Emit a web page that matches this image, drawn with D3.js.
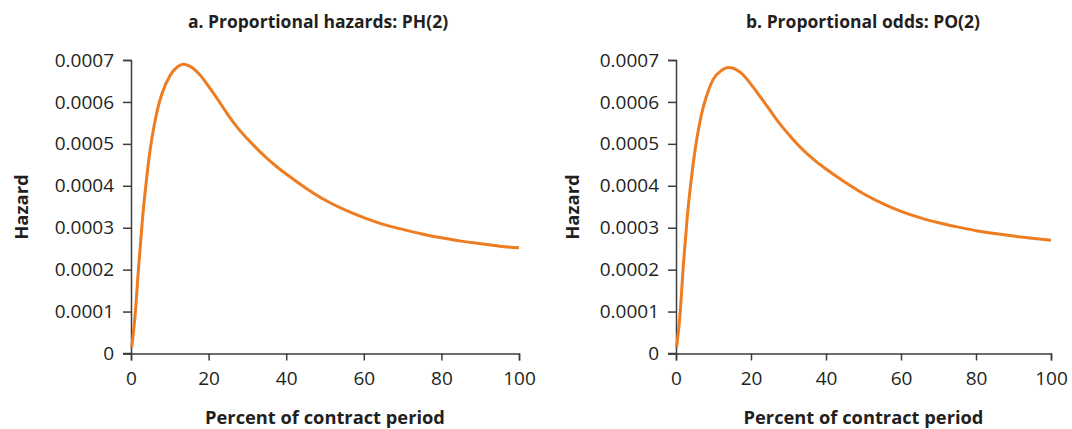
<!DOCTYPE html>
<html>
<head>
<meta charset="utf-8">
<script src="https://cdn.jsdelivr.net/npm/d3@7"></script>
<style>
  html, body { margin: 0; padding: 0; background: #fff; }
  svg { display: block; }
  text { fill: #231f20; font-family: "Open Sans", "Noto Sans", sans-serif; }
</style>
</head>
<body>
<svg id="chart" width="1072" height="429"></svg>
<script>
// Hazard curves over the contract period (x in percent of period)
const phPercent = [0.2, 1, 2, 3, 4, 5, 6, 7, 8, 10, 12, 13.5, 15, 17.5, 20, 22.5, 25, 27.5, 30, 32.5, 35, 37.5, 40, 45, 50, 55, 60, 65, 70, 75, 80, 85, 90, 95, 100];
const phHazard  = [0.000015, 0.000085, 0.00021, 0.000325, 0.000415, 0.00049, 0.000545, 0.000588, 0.00062, 0.000662, 0.000684, 0.00069, 0.000686, 0.000667, 0.000637, 0.000604, 0.000569, 0.000538, 0.000512, 0.000488, 0.000466, 0.000446, 0.000428, 0.000395, 0.000366, 0.000343, 0.000324, 0.000308, 0.000296, 0.000285, 0.000276, 0.000268, 0.000262, 0.000256, 0.000252];

const poPercent = [0.15, 1, 2, 3, 4, 5, 6, 7, 8, 10, 12, 14, 15, 17.5, 20, 22.5, 25, 27.5, 30, 32.5, 35, 37.5, 40, 45, 50, 55, 60, 65, 70, 75, 80, 85, 90, 95, 100];
const poHazard  = [0.000015, 0.000085, 0.000215, 0.000325, 0.00041, 0.00048, 0.000535, 0.000578, 0.00061, 0.000655, 0.000674, 0.000682, 0.000681, 0.000668, 0.000642, 0.000612, 0.000581, 0.00055, 0.000523, 0.000498, 0.000476, 0.000457, 0.00044, 0.000409, 0.000381, 0.000358, 0.000339, 0.000324, 0.000312, 0.000302, 0.000293, 0.000286, 0.00028, 0.000275, 0.00027];

const xTicks = [0, 20, 40, 60, 80, 100];
const yTicks = [0, 0.0001, 0.0002, 0.0003, 0.0004, 0.0005, 0.0006, 0.0007];
const yTickLabels = ["0", "0.0001", "0.0002", "0.0003", "0.0004", "0.0005", "0.0006", "0.0007"];

const panelTitles = ["a. Proportional hazards: PH(2)", "b. Proportional odds: PO(2)"];
const xAxisTitle = "Percent of contract period";
const yAxisTitle = "Hazard";

const lineColor = "#ee7d22";
const axisColor = "#3d3d3d";

const panels = [
  { title: panelTitles[0], percent: phPercent, hazard: phHazard, left: 131, right: 519, titleX: 318, yTitleX: 22 },
  { title: panelTitles[1], percent: poPercent, hazard: poHazard, left: 676, right: 1051, titleX: 863, yTitleX: 573 }
];

const plotTop = 60, plotBottom = 353.5;
const svg = d3.select("#chart");

panels.forEach(p => {
  const x = d3.scaleLinear().domain([0, 100]).range([p.left, p.right]);
  const y = d3.scaleLinear().domain([0, 0.0007]).range([plotBottom, plotTop]);
  const g = svg.append("g");

  // y axis
  const yAxis = g.append("g")
    .attr("transform", `translate(${p.left},0)`)
    .call(d3.axisLeft(y).tickValues(yTicks)
      .tickFormat((d, i) => yTickLabels[i])
      .tickSizeOuter(0).tickSize(8).tickPadding(9));
  // x axis
  const xAxis = g.append("g")
    .attr("transform", `translate(0,${plotBottom})`)
    .call(d3.axisBottom(x).tickValues(xTicks)
      .tickSizeOuter(0).tickSize(7).tickPadding(11));

  [yAxis, xAxis].forEach(a => {
    a.select(".domain").attr("stroke", axisColor).attr("stroke-width", 1.5);
    a.selectAll(".tick line").attr("stroke", axisColor).attr("stroke-width", 1.5);
    a.selectAll(".tick text")
      .attr("fill", "#231f20")
      .style("font-family", '"Open Sans", sans-serif')
      .style("font-size", "19px");
  });
  // extend the baseline under the lowest y tick
  g.append("line")
    .attr("x1", p.left - 8).attr("x2", p.left)
    .attr("y1", plotBottom).attr("y2", plotBottom)
    .attr("stroke", axisColor).attr("stroke-width", 1.5);

  // curve
  const pts = p.percent.map((v, i) => [v, p.hazard[i]]);
  g.append("path")
    .datum(pts)
    .attr("fill", "none")
    .attr("stroke", lineColor)
    .attr("stroke-width", 3)
    .attr("stroke-linejoin", "round")
    .attr("d", d3.line().x(d => x(d[0])).y(d => y(d[1])).curve(d3.curveMonotoneX));

  // titles
  g.append("text")
    .attr("x", p.titleX).attr("y", 28)
    .attr("text-anchor", "middle")
    .style("font-weight", "bold").style("font-size", "17.5px")
    .text(p.title);

  g.append("text")
    .attr("x", (p.left + p.right) / 2).attr("y", 424)
    .attr("text-anchor", "middle")
    .style("font-weight", "bold").style("font-size", "18.3px")
    .text(xAxisTitle);

  g.append("text")
    .attr("transform", `translate(${p.yTitleX},207) rotate(-90)`)
    .attr("text-anchor", "middle")
    .attr("dy", "0.35em")
    .style("font-weight", "bold").style("font-size", "18.5px")
    .text(yAxisTitle);
});
</script>
</body>
</html>
